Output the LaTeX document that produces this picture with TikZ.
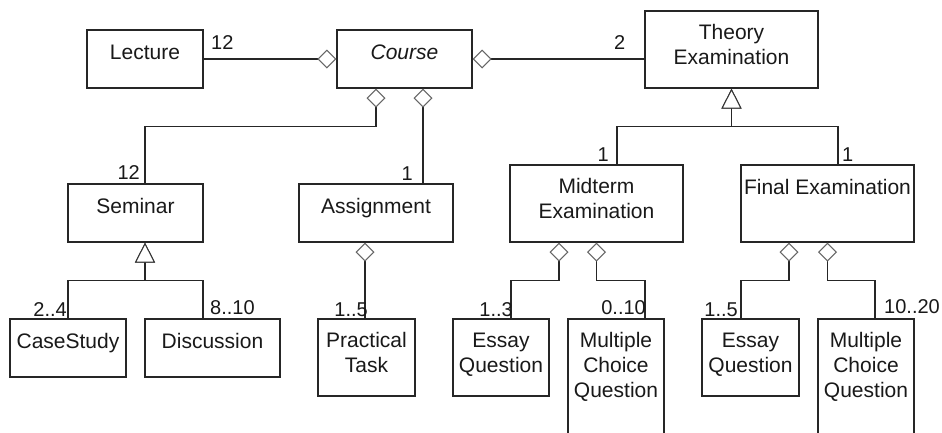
\documentclass[tikz,border=0pt]{standalone}
\usepackage{fontspec}
\setmainfont{Liberation Sans}
\usetikzlibrary{arrows.meta}
\begin{document}
\begin{tikzpicture}[x=1pt,y=-1pt,
  umlbox/.style={draw=black!85, line width=1.2pt, rectangle, inner sep=0pt, fill=white},
  lbl/.style={font=\fontsize{21}{25}\selectfont, align=center, anchor=north, inner sep=0pt,
    text=black!90, execute at begin node={\rule{0pt}{16pt}}},
  mult/.style={font=\fontsize{20}{24}\selectfont, inner sep=0pt, text=black!90},
  link/.style={draw=black!85, line width=1.2pt},
  agg/.style={link, -{Diamond[color=black!60, fill=white, length=19pt, width=19pt, line width=1pt]}},
  gen/.style={link, -{Triangle[color=black!80, fill=white, length=20pt, width=20pt, line width=1pt]}}]

\clip (0,0) rectangle (942,432);
\fill[white] (0,0) rectangle (942,432);

% classes
\node[umlbox, minimum width=116, minimum height=58] (lecture)   at (145,59)    {};
\node[umlbox, minimum width=135, minimum height=58] (course)    at (404.5,59)  {};
\node[umlbox, minimum width=173, minimum height=77] (theory)    at (731.5,49.5) {};
\node[umlbox, minimum width=135, minimum height=58] (seminar)   at (135.5,213) {};
\node[umlbox, minimum width=154, minimum height=58] (assign)    at (376,213)   {};
\node[umlbox, minimum width=173, minimum height=77] (midterm)   at (596.5,203.5) {};
\node[umlbox, minimum width=173, minimum height=77] (final)     at (827.5,203.5) {};
\node[umlbox, minimum width=116, minimum height=58] (case)      at (68,348)    {};
\node[umlbox, minimum width=135, minimum height=58] (discuss)   at (212.5,348) {};
\node[umlbox, minimum width=97,  minimum height=77] (practical) at (366.5,357.5) {};
\node[umlbox, minimum width=96,  minimum height=77] (essay1)    at (501,357.5) {};
\node[umlbox, minimum width=96,  minimum height=126] (mcq1)     at (616,382)   {};
\node[umlbox, minimum width=97,  minimum height=77] (essay2)    at (750.5,357.5) {};
\node[umlbox, minimum width=96,  minimum height=126] (mcq2)     at (866,382)   {};

% class names
\node[lbl] (tlecture)   at ([yshift=-14pt]lecture.north)   {Lecture};
\node[lbl] (tcourse)    at ([yshift=-14pt]course.north)    {\itshape Course};
\node[lbl] (ttheory)    at ([yshift=-14pt]theory.north)    {Theory\\Examination};
\node[lbl] (tseminar)   at ([yshift=-14pt]seminar.north)   {Seminar};
\node[lbl] (tassign)    at ([yshift=-14pt]assign.north)    {Assignment};
\node[lbl] (tmidterm)   at ([yshift=-14pt]midterm.north)   {Midterm\\Examination};
\node[lbl] (tfinal)     at ([yshift=-14pt]final.north)     {Final Examination};
\node[lbl] (tcase)      at ([yshift=-14pt]case.north)      {CaseStudy};
\node[lbl] (tdiscuss)   at ([yshift=-14pt]discuss.north)   {Discussion};
\node[lbl] (tpractical) at ([yshift=-14pt]practical.north) {Practical\\Task};
\node[lbl] (tessay1)    at ([yshift=-14pt]essay1.north)    {Essay\\Question};
\node[lbl] (tmcq1)      at ([yshift=-14pt]mcq1.north)      {Multiple\\Choice\\Question};
\node[lbl] (tessay2)    at ([yshift=-14pt]essay2.north)    {Essay\\Question};
\node[lbl] (tmcq2)      at ([yshift=-14pt]mcq2.north)      {Multiple\\Choice\\Question};

% aggregations into Course
\draw[agg] (lecture.east) -- (course.west);
\draw[agg] (theory.west |- course.east) -- (course.east);
\draw[agg] ([xshift=9.5pt]seminar.north) |- ([xshift=-28.5pt,yshift=-38pt]course.south)
  -- ([xshift=-28.5pt]course.south);
\draw[agg] ([xshift=47pt]assign.north) -- ([xshift=47pt]assign.north |- course.south);

% seminar specialisations
\coordinate (semfork) at ([xshift=9.5pt,yshift=-38pt]seminar.south);
\draw[gen] (case.north) |- (semfork) -- ([xshift=9.5pt]seminar.south);
\draw[gen] ([xshift=-9.5pt]discuss.north) |- (semfork) -- ([xshift=9.5pt]seminar.south);

% assignment parts
\draw[agg] ([xshift=-1.5pt]practical.north) -- ([xshift=-1.5pt]practical.north |- assign.south);

% theory examination specialisations
\coordinate (thfork) at ([yshift=-38pt]theory.south);
\draw[gen] ([xshift=20.5pt]midterm.north) |- (thfork) -- (theory.south);
\draw[gen] ([xshift=10.5pt]final.north) |- (thfork) -- (theory.south);

% examination questions
\draw[agg] ([xshift=10pt]essay1.north) |- ([xshift=-37.5pt,yshift=-38pt]midterm.south)
  -- ([xshift=-37.5pt]midterm.south);
\draw[agg] ([xshift=29pt]mcq1.north) |- ([yshift=-38pt]midterm.south) -- (midterm.south);
\draw[agg] ([xshift=-9.5pt]essay2.north) |- ([xshift=-38.5pt,yshift=-38pt]final.south)
  -- ([xshift=-38.5pt]final.south);
\draw[agg] ([xshift=9pt]mcq2.north) |- ([yshift=-38pt]final.south) -- (final.south);

% multiplicities
\node[mult, anchor=base west] (m1)  at (211,49)  {12};
\node[mult, anchor=base west] (m2)  at (614,49)  {2};
\node[mult, anchor=base east] (m3)  at (140,179) {12};
\node[mult, anchor=base east] (m4)  at (413,180) {1};
\node[mult, anchor=base east] (m5)  at (609,161) {1};
\node[mult, anchor=base west] (m6)  at (842,161) {1};
\node[mult, anchor=base east] (m7)  at (67,316)  {2..4};
\node[mult, anchor=base west] (m8)  at (210,314) {8..10};
\node[mult, anchor=base east] (m9)  at (368,316) {1..5};
\node[mult, anchor=base east] (m10) at (513,316) {1..3};
\node[mult, anchor=base east] (m11) at (646,314) {0..10};
\node[mult, anchor=base east] (m12) at (738,316) {1..5};
\node[mult, anchor=base west] (m13) at (884,313) {10..20};
\end{tikzpicture}
\end{document}
